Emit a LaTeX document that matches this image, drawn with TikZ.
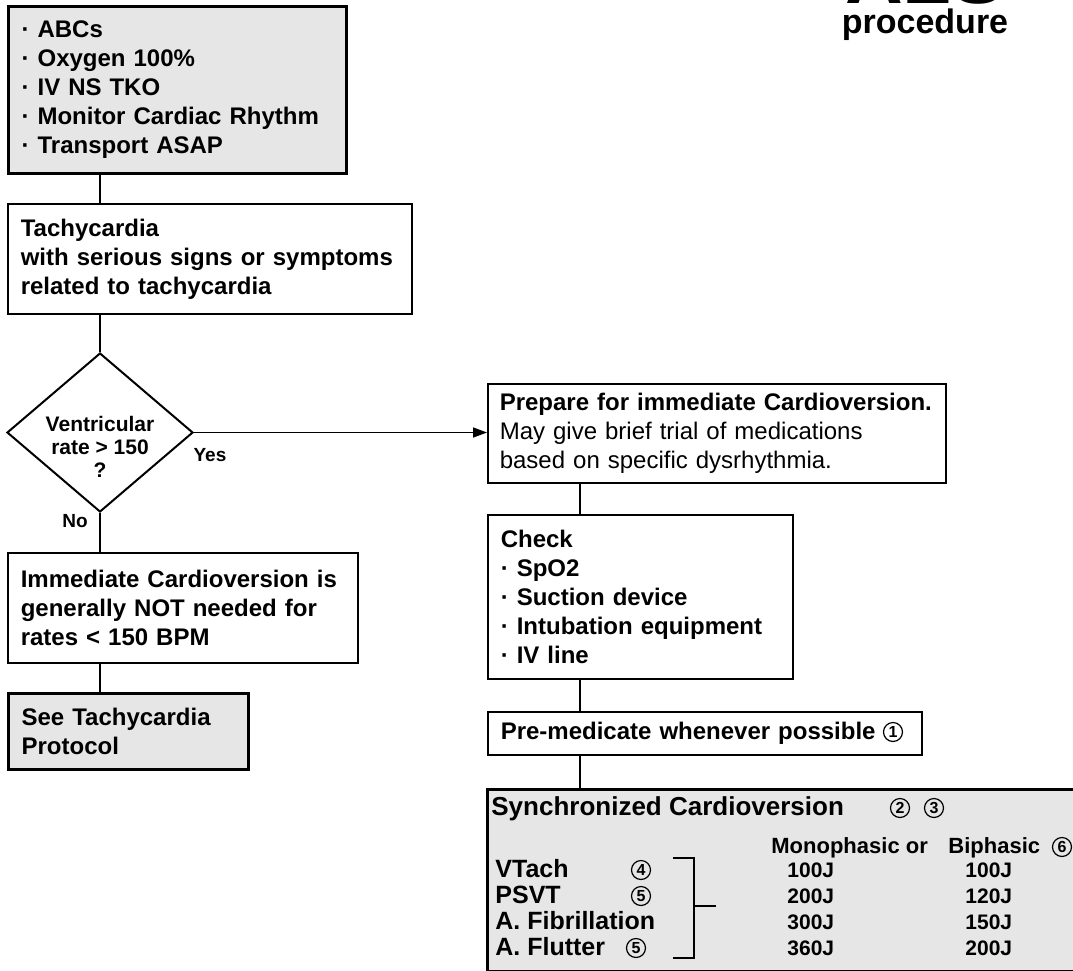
\documentclass[tikz,border=0pt]{standalone}
\usepackage{fontspec}
\setmainfont{Liberation Sans}
\usetikzlibrary{shapes.geometric,arrows.meta}
\definecolor{boxgrey}{RGB}{230,230,230}
\tikzset{
  box/.style={draw, line width=0.8pt, anchor=north west, align=left, inner xsep=6.5pt, inner ysep=0pt, font=\bfseries\fontsize{12}{14.5}\selectfont},
  greybox/.style={box, fill=boxgrey, line width=1.6pt},
  num/.style={circle, draw, line width=0.6pt, inner sep=0pt, minimum size=9.5pt, font=\bfseries\fontsize{8}{8}\selectfont},
  txt/.style={anchor=base west, inner sep=0pt, font=\bfseries\fontsize{12.5}{14.5}\selectfont},
  head/.style={anchor=base west, inner sep=0pt, font=\bfseries\fontsize{11}{12}\selectfont},
  joule/.style={anchor=base west, inner sep=0pt, font=\bfseries\fontsize{10.5}{12}\selectfont},
  conn/.style={line width=0.8pt},
}

\begin{document}
\begin{tikzpicture}[x=0.5pt, y=-0.5pt]
  \useasboundingbox (0,0) rectangle (1073,971);
  \clip (0,0) rectangle (1073,971);

  % title
  \node[anchor=base, inner sep=0pt, font=\bfseries\fontsize{40}{40}\selectfont] (als) at (925,3) {ALS};
  \node[anchor=base, inner sep=0pt, font=\bfseries\fontsize{17}{18}\selectfont] (proc) at (925,33) {procedure};

  % left column
  \node[greybox, text width=156pt, minimum height=83.5pt] (basics) at (7,5)
    {· ABCs\\· Oxygen 100\%\\· IV NS TKO\\· Monitor Cardiac Rhythm\\· Transport ASAP};
  \node[box, text width=189pt, minimum height=55pt] (tachy) at (7,203)
    {Tachycardia\\with serious signs or symptoms\\related to tachycardia};
  \node[diamond, draw, line width=1pt, inner sep=0pt, minimum width=93pt, minimum height=79.5pt] (rate) at (100,432.5) {};
  \node[align=center, inner sep=0pt, font=\bfseries\fontsize{10.5}{11.5}\selectfont] (ratetxt) at (100,447) {Ventricular\\rate > 150\\?};
  \node[inner sep=0pt, font=\bfseries\fontsize{9.5}{10}\selectfont] (yes) at (210,455) {Yes};
  \node[inner sep=0pt, font=\bfseries\fontsize{9.5}{10}\selectfont] (no) at (75,521) {No};
  \node[box, text width=162pt, minimum height=55pt] (notneeded) at (7,552)
    {Immediate Cardioversion is\\generally NOT needed for\\rates < 150 BPM};
  \node[greybox, text width=107pt, minimum height=38pt] (protocol) at (7,692)
    {See Tachycardia\\Protocol};

  % right column
  \coordinate (rcol) at (580,0);
  \node[box, inner xsep=6pt, text width=217pt, minimum height=49.5pt] (prep) at (487,383)
    {Prepare for immediate Cardioversion.\\{\mdseries May give brief trial of medications}\\{\mdseries based on specific dysrhythmia.}};
  \node[box, text width=139.5pt, minimum height=82pt] (check) at (487,514)
    {Check\\· SpO2\\· Suction device\\· Intubation equipment\\· IV line};
  \node[box, text width=204pt, minimum height=21.5pt] (premed) at (487,711)
    {Pre-medicate whenever possible};
  \node[num] (n1) at (893,732) {1};
  \node[greybox, minimum width=300pt, minimum height=91pt] (sync) at (486,788) {};

  % synchronized cardioversion table
  \node[txt, font=\bfseries\fontsize{13}{15}\selectfont] (synctitle) at (491,815) {Synchronized Cardioversion};
  \node[num] (n2) at (900,808) {2};
  \node[num] (n3) at (934,808) {3};
  \node[head] (mono) at (771,853) {Monophasic or};
  \node[head] (bi) at (948,853) {Biphasic};
  \node[num] (n6) at (1062,847) {6};
  \node[txt] (vtach) at (495,877) {VTach};
  \node[txt] (psvt) at (495,903) {PSVT};
  \node[txt] (afib) at (495,929) {A. Fibrillation};
  \node[txt] (aflut) at (495,955) {A. Flutter};
  \node[num] (n4) at (641,870) {4};
  \node[num] (n5a) at (641,896) {5};
  \node[num] (n5b) at (636,948) {5};
  \node[joule] (m1) at (787,877) {100J};
  \node[joule] (m2) at (787,903) {200J};
  \node[joule] (m3) at (787,929) {300J};
  \node[joule] (m4) at (787,955) {360J};
  \node[joule] (b1) at (965,877) {100J};
  \node[joule] (b2) at (965,903) {120J};
  \node[joule] (b3) at (965,929) {150J};
  \node[joule] (b4) at (965,955) {200J};
  \draw[line width=0.6pt] (673,858) -- (694,858) -- (694,958) -- (673,958);
  \draw[line width=0.6pt] (694,906) -- (716,906);

  % connectors
  \draw[conn] (basics.south -| rate.north) -- (tachy.north -| rate.north);
  \draw[conn] (tachy.south -| rate.north) -- (rate.north);
  \draw[conn] (rate.south) -- (notneeded.north -| rate.south);
  \draw[conn] (notneeded.south -| rate.south) -- (protocol.north -| rate.south);
  \draw[conn, -{Triangle[length=7pt, width=5pt]}] (rate.east) -- (rate.east -| prep.west);
  \draw[conn] (prep.south -| rcol) -- (check.north -| rcol);
  \draw[conn] (check.south -| rcol) -- (premed.north -| rcol);
  \draw[conn] (premed.south -| rcol) -- (sync.north -| rcol);
\end{tikzpicture}
\end{document}
